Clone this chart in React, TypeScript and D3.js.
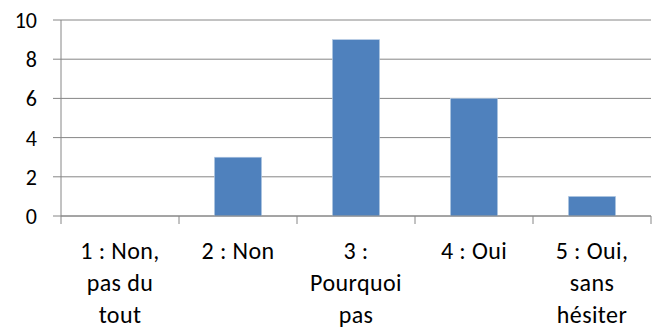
import React from "react";
import * as d3 from "d3";

const categories: string[][] = [
  ["1 : Non,", "pas du", "tout"],
  ["2 : Non"],
  ["3 :", "Pourquoi", "pas"],
  ["4 : Oui"],
  ["5 : Oui,", "sans", "hésiter"],
];
const values: number[] = [0, 3, 9, 6, 1];
const yTicks: number[] = [0, 2, 4, 6, 8, 10];

const W = 656;
const H = 329;
const left = 61;
const right = 651;
const top = 20;
const bottom = 216;
const FONT = "Calibri, Carlito, Lato, 'Liberation Sans', sans-serif";

export default function App() {
  const keys = categories.map((c, i) => String(i));
  const x = d3.scaleBand<string>().domain(keys).range([left, right]).padding(0);
  const y = d3.scaleLinear().domain([0, 10]).range([bottom, top]);
  const step = x.step();
  const barW = step / 2.5;
  const grid = "#868686";

  return (
    <svg
      width={W}
      height={H}
      style={{ position: "absolute", left: 0, top: 0, background: "#fff" }}
      fontFamily={FONT}
    >
      {yTicks.map((t) => (
        <g key={t}>
          <line x1={left - 8} x2={right} y1={y(t)} y2={y(t)} stroke={grid} strokeWidth={1} />
          <text x={37} y={y(t)} dy="0.36em" textAnchor="end" fontSize={22} fill="#000">
            {t}
          </text>
        </g>
      ))}
      <line x1={left} x2={left} y1={top} y2={bottom + 8} stroke={grid} strokeWidth={1} />
      {keys.map((k) => (
        <line
          key={"t" + k}
          x1={(x(k) as number) + step}
          x2={(x(k) as number) + step}
          y1={bottom}
          y2={bottom + 8}
          stroke={grid}
          strokeWidth={1}
        />
      ))}
      {values.map((v, i) => {
        const cx = (x(keys[i]) as number) + step / 2;
        if (v <= 0) return null;
        return (
          <rect
            key={"b" + i}
            x={cx - barW / 2}
            y={y(v)}
            width={barW}
            height={bottom - y(v)}
            fill="#4F81BD"
            stroke="#B9CDE5"
            strokeWidth={0.6}
          />
        );
      })}
      <line x1={left} x2={right} y1={bottom} y2={bottom} stroke={grid} strokeWidth={1} />
      {categories.map((lines, i) => {
        const cx = (x(keys[i]) as number) + step / 2;
        return (
          <text key={"c" + i} x={cx} textAnchor="middle" fontSize={24} letterSpacing={0.4} fill="#000">
            {lines.map((l, j) => (
              <tspan key={j} x={cx} y={259 + j * 32}>
                {l}
              </tspan>
            ))}
          </text>
        );
      })}
    </svg>
  );
}
